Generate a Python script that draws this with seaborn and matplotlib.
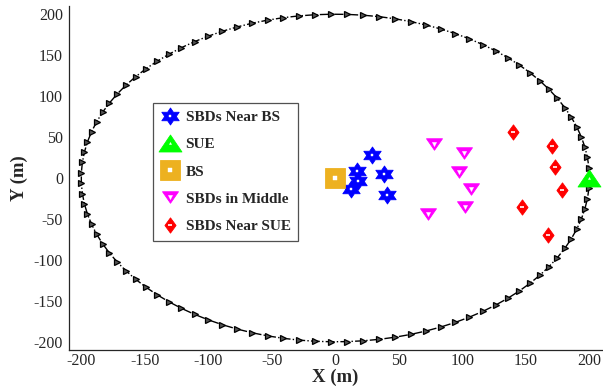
import numpy as np
import pandas as pd
import matplotlib
matplotlib.use("Agg")
import matplotlib.pyplot as plt
from matplotlib.path import Path
from matplotlib.legend_handler import HandlerTuple
import seaborn as sns

# ---- data ----
circle_radius = 200
circle_points = 100

sbd_bs_x = [29, 17, 38, 18, 12.5, 40.5]
sbd_bs_y = [28, 8.5, 5, -4, -13.5, -21]

sue_x = [200]
sue_y = [0]

bs_x = [0]
bs_y = [0]

sbd_mid_x = [77.5, 101, 97, 106.5, 102, 73]
sbd_mid_y = [42, 30, 7, -13.5, -35, -44]

sbd_sue_x = [139.5, 170.5, 173, 178.5, 147, 167]
sbd_sue_y = [56.5, 39, 13.5, -14.5, -36, -70]

labels = ["SBDs Near BS", "SUE", "BS", "SBDs in Middle", "SBDs Near SUE"]
x_ticks = [-200, -150, -100, -50, 0, 50, 100, 150, 200]
y_ticks = [-200, -150, -100, -50, 0, 50, 100, 150, 200]

# ---- style ----
sns.set_style("white")
plt.rcParams["font.family"] = ["Liberation Serif", "DejaVu Serif"]

fig = plt.figure(figsize=(6.03, 3.88), dpi=100)
ax = fig.add_axes([0.1136, 0.098, 0.885, 0.8865])

theta = np.linspace(0, 2 * np.pi, circle_points)
circ = pd.DataFrame({"x": circle_radius * np.cos(theta), "y": circle_radius * np.sin(theta)})
sns.lineplot(data=circ, x="x", y="y", sort=False, estimator=None, ax=ax,
             color="black", linestyle="-.", linewidth=1.0, marker=">", ms=4.8,
             mfc="#555555", mec="black", mew=0.9, zorder=2, clip_on=False)


def poly(verts):
    verts = list(verts) + [verts[0]]
    codes = [Path.MOVETO] + [Path.LINETO] * (len(verts) - 2) + [Path.CLOSEPOLY]
    return Path(np.array(verts, dtype=float), codes)


ang = np.pi / 2 + np.arange(12) * np.pi / 6
rad = np.where(np.arange(12) % 2 == 0, 1.0, 1 / np.sqrt(3))
hexagram = poly([(1.18 * r * np.cos(a), r * np.sin(a)) for r, a in zip(rad, ang)])
diamond = poly([(0, 1), (0.73, 0), (0, -1), (-0.73, 0)])
tri_up = poly([(-1, -0.74), (1, -0.74), (0, 0.74)])
tri_down = poly([(-1, 0.72), (1, 0.72), (0, -0.72)])

handles = []


def pts(xs, ys, label, marker, color, ms, hole_marker, hole_ms, hole_mew=0.3, z=4):
    sns.lineplot(x=xs, y=ys, sort=False, estimator=None, ax=ax, label=label,
                 linestyle="", marker=marker, ms=ms, mfc=color, mec=color,
                 mew=0.6, zorder=z, clip_on=False)
    main = ax.lines[-1]
    sns.lineplot(x=xs, y=ys, sort=False, estimator=None, ax=ax,
                 linestyle="", marker=hole_marker, ms=hole_ms, mfc="white",
                 mec="white", mew=hole_mew, zorder=z + 0.1, clip_on=False)
    hole = ax.lines[-1]
    handles.append((main, hole))


pts(sbd_bs_x, sbd_bs_y, labels[0], hexagram, "#0000FF", 12.5, "s", 2.0)
pts(sue_x, sue_y, labels[1], tri_up, "#00FF00", 16.5, "^", 1.5, z=5)
pts(bs_x, bs_y, labels[2], "s", "#EDB120", 14, "s", 3.0)
pts(sbd_mid_x, sbd_mid_y, labels[3], tri_down, "#FF00FF", 11.5, "v", 3.0)
pts(sbd_sue_x, sbd_sue_y, labels[4], diamond, "#FF0000", 11, "_", 2.5, hole_mew=1.2)

ax.set_xlim(-210, 210)
ax.set_ylim(-210, 210)
ax.set_xticks(x_ticks)
ax.set_yticks(y_ticks)
ax.set_xticklabels([str(t) for t in x_ticks])
ax.set_yticklabels([str(t) for t in y_ticks])
ax.tick_params(direction="in", length=4, width=0.8, labelsize=11.5, colors="#262626",
               labelcolor="#262626")
ax.tick_params(axis="x", pad=2)
ax.tick_params(axis="y", pad=4)
for s in ["top", "right"]:
    ax.spines[s].set_visible(False)
for s in ["left", "bottom"]:
    ax.spines[s].set_color("#262626")
    ax.spines[s].set_linewidth(0.9)

ax.set_xlabel("X (m)", fontsize=13.5, fontweight="bold", labelpad=0)
ax.set_ylabel("Y (m)", fontsize=13.5, fontweight="bold", labelpad=4)

leg = ax.legend(handles=handles, labels=labels, loc="upper left",
                handler_map={tuple: HandlerTuple(ndivide=1, pad=0)},
                bbox_to_anchor=(0.158, 0.718), frameon=True,
                fancybox=False, prop={"weight": "bold", "size": 11},
                labelspacing=0.88, handlelength=1.3, handletextpad=0.35,
                borderpad=0.5, borderaxespad=0)
leg.get_frame().set_edgecolor("#262626")
leg.get_frame().set_linewidth(0.9)

fig.savefig("out.png", dpi=100)
